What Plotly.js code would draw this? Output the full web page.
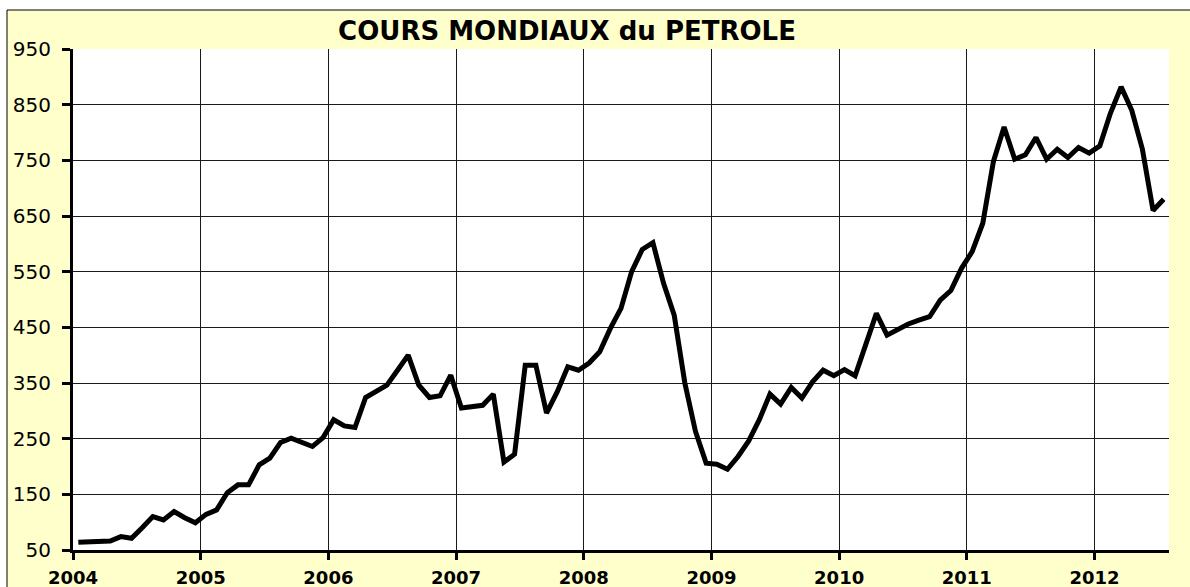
<!DOCTYPE html>
<html>
<head>
<meta charset="utf-8">
<script src="https://cdn.plot.ly/plotly-3.0.1.min.js"></script>
<style>
  html, body { margin: 0; padding: 0; background: #ffffff; overflow: hidden; }
  #chart { width: 1190px; height: 587px; }
</style>
</head>
<body>
<div id="chart"></div>
<script>
// Monthly world oil price index, Jan 2004 – Jul 2012
const startYear = 2004;
const yearTicks = [2004, 2005, 2006, 2007, 2008, 2009, 2010, 2011, 2012];
const yTicks = [50, 150, 250, 350, 450, 550, 650, 750, 850, 950];
const prices = [
  64, 64, 66, 66, 74, 71, 90, 110, 104, 119, 108, 99,          // 2004
  114, 122, 153, 167, 167, 203, 215, 243, 251, 243, 236, 252,  // 2005
  284, 273, 270, 324, 334, 346, 373, 400, 346, 324, 327, 364,  // 2006
  305, 308, 310, 330, 208, 222, 382, 382, 296, 334, 379, 373,  // 2007
  386, 406, 448, 484, 550, 590, 602, 529, 472, 350, 263, 206,  // 2008
  204, 195, 218, 246, 284, 330, 312, 342, 323, 352, 373, 363,  // 2009
  374, 363, 420, 475, 436, 446, 456, 463, 469, 499, 516, 556,  // 2010
  586, 637, 748, 810, 752, 760, 791, 752, 770, 755, 773, 763,  // 2011
  776, 835, 882, 840, 770, 660, 680                            // 2012
];
const months = prices.map((_, i) => startYear + (i + 0.5) / 12);

const trace = {
  x: months,
  y: prices,
  type: 'scatter',
  mode: 'lines',
  line: { color: '#000000', width: 5 },
  hoverinfo: 'x+y'
};

const W = 1190, H = 587;
const mL = 73, mR = 21, mT = 49, mB = 37;
const pw = W - mL - mR, ph = H - mT - mB;
const px2x = p => (p - mL) / pw;
const px2y = p => (H - mB - p) / ph;

const layout = {
  width: W,
  height: H,
  margin: { l: mL, r: mR, t: mT, b: mB, pad: 0 },
  paper_bgcolor: '#ffffff',
  plot_bgcolor: '#ffffff',
  showlegend: false,
  title: {
    text: 'COURS MONDIAUX du PETROLE',
    font: { family: 'DejaVu Sans', size: 26, color: '#000000', weight: 'bold' },
    xref: 'paper', x: px2x(567), xanchor: 'center',
    yref: 'container', y: 1 - 31 / H, yanchor: 'middle'
  },
  xaxis: {
    range: [startYear, startYear + prices.length / 12],
    tickmode: 'array',
    tickvals: yearTicks,
    ticktext: yearTicks.map(String),
    showgrid: true, gridcolor: '#1a1a1a', gridwidth: 1,
    zeroline: false,
    showline: true, linecolor: '#000000', linewidth: 3,
    ticks: 'outside', ticklen: 7, tickwidth: 3, tickcolor: '#000000',
    ticklabelstandoff: 2,
    tickfont: { family: 'DejaVu Sans', size: 18, color: '#000000', weight: 'bold' },
    fixedrange: true
  },
  yaxis: {
    range: [50, 950],
    tickmode: 'array',
    tickvals: yTicks,
    ticktext: yTicks.map(String),
    showgrid: true, gridcolor: '#1a1a1a', gridwidth: 1,
    zeroline: false,
    showline: true, linecolor: '#000000', linewidth: 3,
    ticks: 'outside', ticklen: 8, tickwidth: 3, tickcolor: '#000000',
    ticklabelstandoff: 7,
    tickfont: { family: 'DejaVu Sans', size: 20, color: '#000000' },
    fixedrange: true
  },
  shapes: [
    { type: 'rect', xref: 'paper', yref: 'paper', layer: 'below',
      x0: px2x(7), x1: px2x(1200), y0: px2y(600), y1: px2y(10),
      fillcolor: '#FFFFCC', line: { color: '#000000', width: 1 } },
    { type: 'rect', xref: 'paper', yref: 'paper', layer: 'below',
      x0: 0, x1: 1, y0: 0, y1: 1,
      fillcolor: '#ffffff', line: { width: 0 } }
  ]
};

Plotly.newPlot('chart', [trace], layout, { displayModeBar: false, staticPlot: true });
</script>
</body>
</html>
